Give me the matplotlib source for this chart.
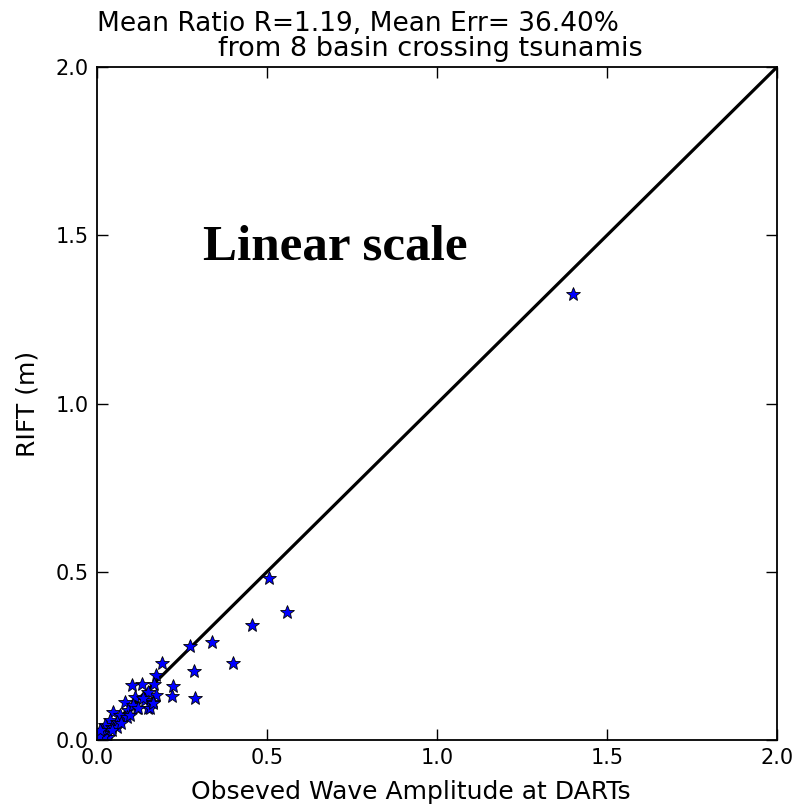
import numpy as np
import matplotlib
matplotlib.use("Agg")
import matplotlib.pyplot as plt

obs = [1.40, 0.506, 0.558, 0.457, 0.337, 0.274, 0.399, 0.286, 0.288, 0.224,
       0.220, 0.190, 0.174, 0.131, 0.102, 0.169, 0.175, 0.151, 0.141, 0.112,
       0.082, 0.151, 0.117, 0.092, 0.048, 0.068, 0.087, 0.038, 0.058, 0.024,
       0.043, 0.014, 0.033, 0.009, 0.024, 0.004, 0.033, 0.058, 0.156, 0.164,
       0.136, 0.097, 0.166, 0.107, 0.121, 0.015, 0.020, 0.005, 0.010, 0.045,
       0.070]
rift = [1.325, 0.481, 0.381, 0.342, 0.290, 0.279, 0.230, 0.205, 0.124, 0.161,
        0.132, 0.228, 0.193, 0.168, 0.163, 0.168, 0.134, 0.144, 0.119, 0.129,
        0.114, 0.094, 0.094, 0.089, 0.084, 0.074, 0.069, 0.059, 0.054, 0.045,
        0.040, 0.030, 0.025, 0.015, 0.010, 0.005, 0.010, 0.040, 0.094, 0.114,
        0.124, 0.074, 0.109, 0.104, 0.094, 0.020, 0.012, 0.012, 0.030, 0.030,
        0.050]
lims = [0.0, 2.0]
ticks = [0.0, 0.5, 1.0, 1.5, 2.0]

fig = plt.figure(figsize=(7.95, 8.11), dpi=100, facecolor="white")
ax = fig.add_axes([0.122, 0.0875, 0.855, 0.8295])

ax.plot(lims, lims, color="black", linewidth=2.3)
ax.plot(obs, rift, linestyle="none", marker="*", markersize=10,
        markerfacecolor="blue", markeredgecolor="black", markeredgewidth=0.6)

ax.set_xlim(lims)
ax.set_ylim(lims)
ax.set_xticks(ticks)
ax.set_yticks(ticks)
ax.tick_params(direction="in", top=True, right=True, length=8, width=1,
               labelsize=15, pad=6)
for s in ax.spines.values():
    s.set_linewidth(1.3)

ax.set_xlabel("Obseved Wave Amplitude at DARTs", fontsize=18)
ax.set_ylabel("RIFT (m)", fontsize=18)
ax.xaxis.set_label_coords(0.462, -0.060)
ax.yaxis.set_label_coords(-0.085, 0.5)

# two title lines, second one indented like the original
ax.text(0.0, 1.0535, "Mean Ratio R=1.19, Mean Err= 36.40%", transform=ax.transAxes,
        fontsize=19, ha="left", va="baseline")
ax.text(0.178, 1.0163, "from 8 basin crossing tsunamis", transform=ax.transAxes,
        fontsize=19.5, ha="left", va="baseline")

ax.text(0.156, 0.732, "Linear scale", transform=ax.transAxes,
        fontsize=36.8, fontweight="bold", family="Liberation Serif",
        ha="left", va="center")

fig.savefig("out.png", dpi=100, facecolor="white")
